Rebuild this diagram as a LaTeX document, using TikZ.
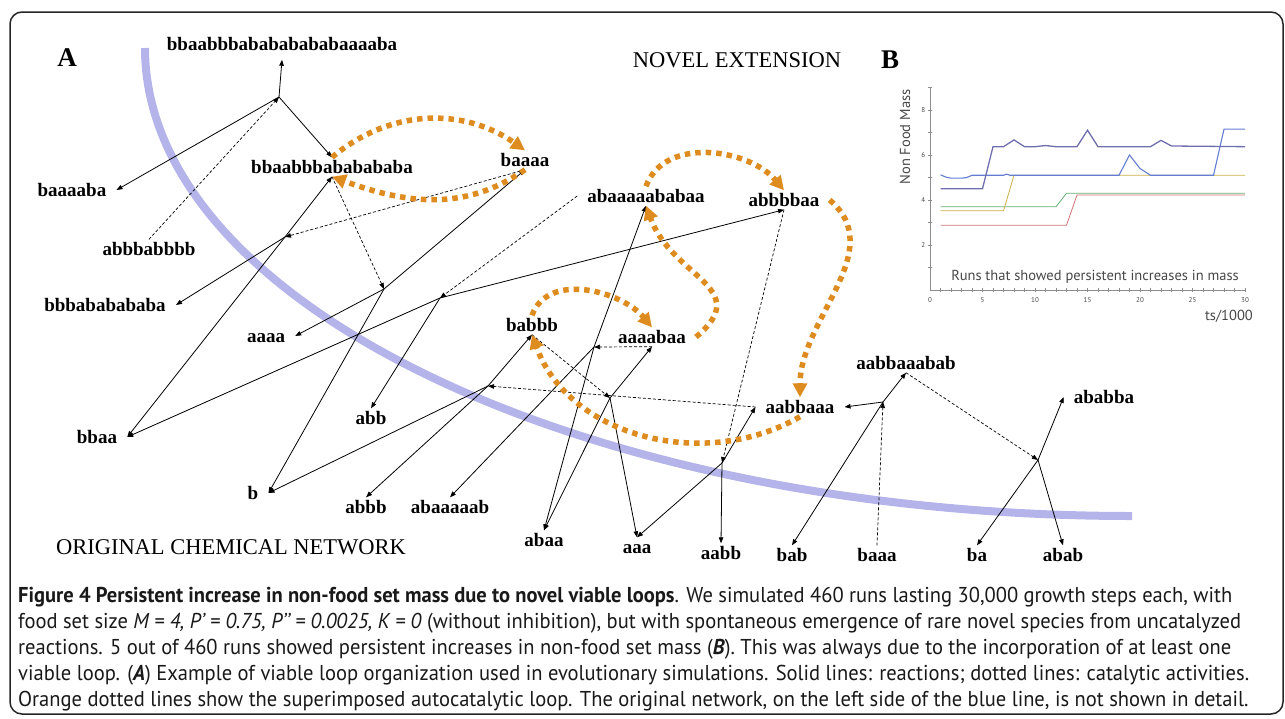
\documentclass[tikz,border=0pt]{standalone}
\usepackage{fontspec}
\setmainfont{Liberation Serif}
\newfontfamily\capfont{PT Sans}[FakeStretch=0.955]
\newfontfamily\plotfont{PT Sans}
\usetikzlibrary{arrows.meta}
\definecolor{loopor}{RGB}{222,140,32}
\definecolor{sepblue}{RGB}{180,180,234}
\definecolor{axgray}{RGB}{140,140,140}
\definecolor{txgray}{RGB}{70,70,70}
\definecolor{slate}{RGB}{110,110,175}
\definecolor{runblue}{RGB}{100,125,210}
\definecolor{runolive}{RGB}{200,175,70}
\definecolor{rungreen}{RGB}{100,175,110}
\definecolor{runred}{RGB}{205,115,115}
\tikzset{
  spec/.style={font={\fontsize{19}{19}\selectfont\bfseries}, inner xsep=10pt, inner ysep=3pt, text height=13pt, text depth=0pt},
  rxn/.style={-{Triangle[length=6pt,width=4.5pt]}, line width=0.8pt},
  cat/.style={rxn, dash pattern=on 3pt off 2pt, line width=0.7pt},
  autoloop/.style={draw=loopor, line width=5.5pt, dash pattern=on 5.5pt off 5pt, -{Triangle[length=14pt,width=14pt]}},
  regtitle/.style={font={\fontsize{22.5}{22.5}\selectfont}},
  panellbl/.style={font={\fontsize{27}{27}\selectfont\bfseries}},
  capline/.style={anchor=base west, inner sep=0pt, font={\capfont\fontsize{21.5}{21.5}\selectfont}, text=black!90},
  plottxt/.style={font={\plotfont\fontsize{14.5}{14.5}\selectfont}, text=txgray, inner sep=0pt}
}
\begin{document}
\begin{tikzpicture}[x=1pt,y=1pt]
\useasboundingbox (0,0) rectangle (1285,-718);
% frame
\draw[line width=1.5pt, rounded corners=12pt, black!85] (10,-12) rectangle (1283,-714);
% blue border between original network and extension
\draw[sepblue, line width=8pt] (145,-48) .. controls (145,-305) and (587,-516) .. (1132,-516);

% headings
\node[panellbl] (lblA) at (67,-58) {A};
\node[panellbl] (lblB) at (890,-60) {B};
\node[regtitle] (novel) at (737,-60) {NOVEL EXTENSION};
\node[regtitle] (orig) at (231,-547) {ORIGINAL CHEMICAL NETWORK};

% species
\node[spec] (big) at (282,-44) {bbaabbbabababababaaaaba};
\node[spec] (mid) at (332,-167) {bbaabbbababababa};
\node[spec] (baaaa) at (525,-160) {baaaa};
\node[spec] (baaaaba) at (72,-190) {baaaaba};
\node[spec] (abbbabbbb) at (149,-249) {abbbabbbb};
\node[spec] (abaaaaababaa) at (646,-196) {abaaaaababaa};
\node[spec] (abbbbaa) at (784,-200) {abbbbaa};
\node[spec] (bbbababababa) at (105,-305) {bbbababababa};
\node[spec] (aaaa) at (266,-336) {aaaa};
\node[spec] (babbb) at (532,-325) {babbb};
\node[spec] (aaaabaa) at (652,-337) {aaaabaa};
\node[spec] (abb) at (371,-418) {abb};
\node[spec] (bbaa) at (97,-437) {bbaa};
\node[spec] (b) at (253,-493) {b};
\node[spec] (abbb) at (366,-507) {abbb};
\node[spec] (abaaaaab) at (450,-507) {abaaaaab};
\node[spec] (abaa) at (544,-540) {abaa};
\node[spec] (aaa) at (637,-547) {aaa};
\node[spec] (aabb) at (721,-553) {aabb};
\node[spec] (bab) at (792,-555) {bab};
\node[spec] (aabbaaa) at (800,-407) {aabbaaa};
\node[spec] (aabbaaabab) at (906,-363) {aabbaaabab};
\node[spec] (ababba) at (1104,-397) {ababba};
\node[spec] (baaa) at (877,-555) {baaa};
\node[spec] (ba) at (977,-555) {ba};
\node[spec] (abab) at (1063,-555) {abab};

% reactions
\coordinate (r1) at (279,-97);
\coordinate (r2) at (285,-237);
\coordinate (r3) at (384,-289);
\coordinate (r4) at (440,-298);
\coordinate (r5) at (488,-386);
\coordinate (r6) at (610,-398);
\coordinate (r7) at (594,-347);
\coordinate (r8) at (722,-463);
\coordinate (r9) at (883,-402);
\coordinate (r10) at (1038,-460);

\draw[rxn] (r1) -- ([yshift=-6pt]big.south);
\draw[rxn] (r1) -- (baaaaba.east);
\draw[rxn] (r1) -- (mid.north);
\draw[cat] (abbbabbbb.north) -- (r1);

\draw[rxn] (r2) -- (bbbababababa.east);
\draw[rxn] (r2) -- (mid.south);
\draw[rxn] (r2) -- (bbaa.east);
\draw[cat] (baaaa.south) -- (r2);

\draw[rxn] (r3) -- (aaaa.east);
\draw[rxn] (r3) -- (baaaa.south);
\draw[rxn] (r3) -- (b.east);
\draw[cat] (mid.south) -- (r3);

\draw[rxn] (r4) -- (bbaa.east);
\draw[rxn] (r4) -- (abbbbaa.south);
\draw[rxn] (r4) -- (abb.north);
\draw[cat] (abaaaaababaa.west) -- (r4);

\draw[rxn] (r5) -- (b.east);
\draw[rxn] (r5) -- (babbb.south);
\draw[rxn] (r5) -- (abbb.north);
\draw[cat] (aabbaaa.west) -- (r5);

\draw[rxn] (r6) -- (aaa.north);
\draw[rxn] (r6) -- (aaaabaa.south);
\draw[rxn] (r6) -- (abaa.north);
\draw[cat] (babbb.south) -- (r6);

\draw[rxn] (r7) -- (abaa.north);
\draw[rxn] (r7) -- (abaaaaababaa.south);
\draw[rxn] (r7) -- (abaaaaab.north);
\draw[cat] (aaaabaa.south) -- (r7);

\draw[rxn] (r8) -- (aabb.north);
\draw[rxn] (r8) -- (aaa.north);
\draw[rxn] (r8) -- (aabbaaa.west);
\draw[cat] (abbbbaa.south) -- (r8);

\draw[rxn] (r9) -- (aabbaaa.east);
\draw[rxn] (r9) -- (aabbaaabab.south);
\draw[rxn] (r9) -- (bab.north);
\draw[cat] (baaa.north) -- (r9);

\draw[rxn] (r10) -- (ababba.west);
\draw[rxn] (r10) -- (ba.north);
\draw[rxn] (r10) -- (abab.north);
\draw[cat] (aabbaaabab.south) -- (r10);

% autocatalytic loop
\draw[autoloop] (mid.north) to[out=40,in=145] (baaaa.north);
\draw[autoloop] (baaaa.south) to[out=-145,in=-20] (mid.south);
\draw[autoloop] (abaaaaababaa.north) to[out=70,in=130] (abbbbaa.north);
\draw[autoloop] (abbbbaa.east) to[out=-40,in=90] (aabbaaa.north);
\draw[autoloop] (aabbaaa.south) to[out=-150,in=-70] (babbb.south);
\draw[autoloop] (babbb.north) to[out=70,in=130] (aaaabaa.north);
\draw[autoloop] (aaaabaa.east) to[out=40,in=-70,looseness=1.4] (abaaaaababaa.south);

% plot B
\begin{scope}[shift={(930,-290)}, x=10.5pt, y=22.5pt]
  \draw[axgray, line width=0.6pt] (0,0) -- (30,0);
  \draw[axgray, line width=0.6pt] (0,0) -- (0,9);
  \foreach \t in {1,...,30}
    \draw[axgray, line width=0.4pt] (\t,-0.07) -- (\t,0.07);
  \foreach \v in {1,...,9}
    \draw[axgray, line width=0.4pt] (-0.2,\v) -- (0.2,\v);
  \foreach \t in {0,5,...,30}
    \node[plottxt, font={\plotfont\fontsize{7}{7}\selectfont}] at (\t,-0.45) {\t};
  \foreach \v in {2,4,6,8}
    \node[plottxt, font={\plotfont\fontsize{7}{7}\selectfont}] at (-0.65,\v) {\v};
  \draw[runred, line width=0.8pt] (1,2.88) -- (13,2.88) -- (14,4.22) -- (30,4.22);
  \draw[rungreen, line width=0.8pt] (1,3.7) -- (12,3.7) -- (13,4.3) -- (30,4.3);
  \draw[runolive, line width=0.8pt] (1,3.52) -- (7,3.52) -- (8,5.1) -- (30,5.1);
  \draw[runblue, line width=1.1pt] (1,5.12) -- (1.5,5.02) -- (2,4.97) -- (3,4.97) -- (3.5,5.0) -- (4,5.1) -- (7,5.1) -- (7.3,5.15) -- (7.6,5.1) -- (18,5.1) -- (19,6.0) -- (20,5.4) -- (21,5.1) -- (27,5.1) -- (28,7.15) -- (30,7.15);
  \draw[slate, line width=1.3pt] (1,4.5) -- (5,4.5) -- (6,6.37) -- (7,6.37) -- (8,6.67) -- (9,6.37) -- (10,6.37) -- (11,6.42) -- (12,6.37) -- (14,6.37) -- (15,7.1) -- (16,6.37) -- (21,6.37) -- (22,6.65) -- (23,6.4) -- (30,6.37);
\end{scope}
\node[plottxt, rotate=90] (ylab) at (905,-137) {Non Food Mass};
\node[plottxt] (runs) at (1095,-277) {Runs that showed persistent increases in mass};
\node[plottxt, anchor=east] (tslab) at (1253,-316) {ts/1000};

% caption
\node[capline] (cap1) at (18,-602) {\textbf{Figure 4 Persistent increase in non-food set mass due to novel viable loops}. We simulated 460 runs lasting 30,000 growth steps each, with};
\node[capline] (cap2) at (18,-628) {food set size \textit{M = 4, P’ = 0.75, P’’ = 0.0025, K = 0} (without inhibition), but with spontaneous emergence of rare novel species from uncatalyzed};
\node[capline] (cap3) at (18,-654) {reactions. 5 out of 460 runs showed persistent increases in non-food set mass (\textbf{\textit{B}}). This was always due to the incorporation of at least one};
\node[capline] (cap4) at (18,-680) {viable loop. (\textbf{\textit{A}}) Example of viable loop organization used in evolutionary simulations. Solid lines: reactions; dotted lines: catalytic activities.};
\node[capline] (cap5) at (18,-706) {Orange dotted lines show the superimposed autocatalytic loop. The original network, on the left side of the blue line, is not shown in detail.};
\end{tikzpicture}
\end{document}
